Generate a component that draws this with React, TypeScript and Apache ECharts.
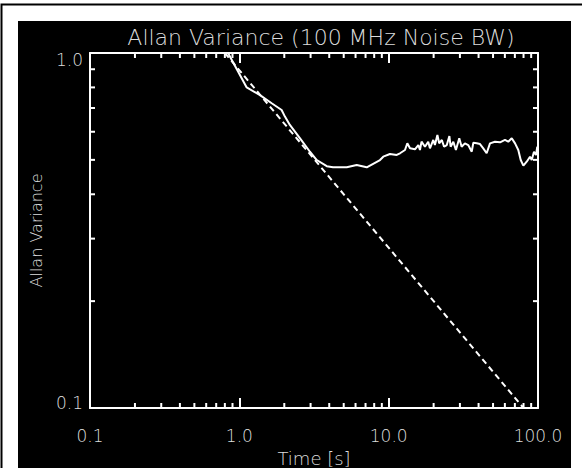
import React, { useEffect, useRef } from "react";
import * as echarts from "echarts";

const titleText = "Allan Variance (100 MHz Noise BW)";
const xName = "Time [s]";
const yName = "Allan Variance";

const measuredT = [0.84, 1.12, 1.375, 1.647, 1.92, 2.02, 2.18, 2.55, 2.97, 3.3, 3.85, 4.24, 5.24, 6.11, 7.13, 8.75, 9.2, 10.2, 11.32, 11.91, 12.86, 13.33, 13.9, 15.0, 15.8, 16.2, 16.6, 17.5, 18.4, 18.9, 19.9, 20.4, 21.2, 21.8, 22.7, 23.5, 24.5, 25.5, 26.0, 27.1, 28.2, 29.7, 30.8, 32.4, 34.1, 36.0, 36.9, 38.9, 40.9, 43.0, 45.3, 47.7, 51.5, 55.7, 60.1, 63.2, 66.7, 70.2, 73.8, 76.6, 79.8, 84.0, 88.4, 90.8, 94.0, 97.0, 98.9];
const measuredV = [1.0, 0.8, 0.761, 0.722, 0.691, 0.662, 0.627, 0.575, 0.527, 0.4995, 0.48, 0.4766, 0.4766, 0.4836, 0.4766, 0.4995, 0.5104, 0.5195, 0.5161, 0.5218, 0.533, 0.5566, 0.5388, 0.5353, 0.5505, 0.533, 0.5626, 0.5444, 0.5626, 0.5388, 0.5689, 0.5505, 0.5875, 0.5566, 0.5689, 0.5444, 0.5505, 0.5837, 0.5444, 0.5626, 0.533, 0.5751, 0.5444, 0.5566, 0.5505, 0.5272, 0.5588, 0.5566, 0.5541, 0.5388, 0.5218, 0.5566, 0.5626, 0.5604, 0.5689, 0.5626, 0.5751, 0.5566, 0.533, 0.4995, 0.4815, 0.494, 0.5104, 0.4995, 0.5272, 0.5161, 0.5444];

const idealT = [0.8, 80];
const idealV = [1.0, 0.1];

const xMinorTicks = [0.2, 0.3, 0.4, 0.5, 0.6, 0.7, 0.8, 0.9, 2, 3, 4, 5, 6, 7, 8, 9, 20, 30, 40, 50, 60, 70, 80, 90];
const yMinorTicks = [0.2, 0.3, 0.4, 0.5, 0.6, 0.7, 0.8, 0.9];

const X_MIN = 0.1, X_MAX = 100, Y_MIN = 0.1, Y_MAX = 1.0;

const FONT = "DejaVu Sans";
const TXT = "#dcdcdc";
const WEIGHT = 200;

export default function App() {
  const ref = useRef<HTMLDivElement>(null);
  useEffect(() => {
    if (!ref.current) return;
    const chart = echarts.init(ref.current, null, { renderer: "svg" });
    const fmt = (v: number) => Number(v.toPrecision(3)).toFixed(1);
    const axisCommon = {
      type: "log" as const,
      logBase: 10,
      axisLine: { show: true, onZero: false, lineStyle: { color: "#ffffff", width: 2 } },
      axisTick: { show: true, inside: true, length: 10, lineStyle: { color: "#ffffff", width: 2 } },
      splitLine: { show: false },
      minorTick: { show: false },
    };
    const minorRender = (axis: "x" | "y") => (params: any, api: any) => {
      const v = api.value(axis === "x" ? 0 : 1);
      const style = { stroke: "#ffffff", lineWidth: 2 };
      if (axis === "x") {
        const b = api.coord([v, Y_MIN]);
        const t = api.coord([v, Y_MAX]);
        return {
          type: "group",
          children: [
            { type: "line", shape: { x1: b[0], y1: b[1], x2: b[0], y2: b[1] - 5 }, style },
            { type: "line", shape: { x1: t[0], y1: t[1], x2: t[0], y2: t[1] + 5 }, style },
          ],
        };
      }
      const l = api.coord([X_MIN, v]);
      const r = api.coord([X_MAX, v]);
      return {
        type: "group",
        children: [
          { type: "line", shape: { x1: l[0], y1: l[1], x2: l[0] + 5, y2: l[1] }, style },
          { type: "line", shape: { x1: r[0], y1: r[1], x2: r[0] - 5, y2: r[1] }, style },
        ],
      };
    };
    const richBase = { fontFamily: FONT, fontSize: 17, color: TXT, fontWeight: WEIGHT };
    chart.setOption({
      animation: false,
      backgroundColor: "#ffffff",
      graphic: [
        { type: "rect", z: -100, shape: { x: 18, y: 21, width: 553, height: 460 }, style: { fill: "#000000" } },
        { type: "polyline", z: -100, shape: { points: [[1.5, 470], [1.5, 4.5], [582, 4.5]] }, style: { stroke: "#000000", lineWidth: 2, fill: null } },
      ],
      title: {
        text: titleText,
        left: 316,
        top: 21,
        textAlign: "center",
        textStyle: { fontFamily: FONT, fontSize: 22, fontWeight: WEIGHT, color: TXT },
      },
      grid: { left: 90, top: 53, right: 44, bottom: 60, containLabel: false, outerBoundsMode: "none" },
      xAxis: [
        {
          ...axisCommon,
          min: X_MIN,
          max: X_MAX,
          position: "bottom",
          name: xName,
          nameLocation: "middle",
          nameGap: 41,
          nameTextStyle: { fontFamily: FONT, fontSize: 18, fontWeight: WEIGHT, color: TXT },
          axisLabel: { show: true, margin: 19, fontFamily: FONT, fontSize: 17, fontWeight: WEIGHT, color: TXT, formatter: fmt },
        },
        {
          ...axisCommon,
          min: X_MIN,
          max: X_MAX,
          position: "top",
          axisLabel: { show: false },
        },
      ],
      yAxis: [
        {
          ...axisCommon,
          min: Y_MIN,
          max: Y_MAX,
          position: "left",
          name: yName,
          nameLocation: "middle",
          nameGap: 46,
          nameTextStyle: { fontFamily: FONT, fontSize: 16, fontWeight: WEIGHT, color: TXT },
          axisLabel: {
            show: true,
            margin: 7,
            fontFamily: FONT,
            fontSize: 17,
            fontWeight: WEIGHT,
            color: TXT,
            formatter: (v: number) => (v > 0.5 ? "{t|" + fmt(v) + "}" : "{b|" + fmt(v) + "}"),
            rich: {
              t: { ...richBase, padding: [14, 0, 0, 0] },
              b: { ...richBase, padding: [0, 0, 10, 0] },
            },
          },
        },
        {
          ...axisCommon,
          min: Y_MIN,
          max: Y_MAX,
          position: "right",
          axisLabel: { show: false },
        },
      ],
      series: [
        {
          type: "custom",
          xAxisIndex: 0,
          yAxisIndex: 0,
          renderItem: minorRender("x"),
          data: xMinorTicks.map((v) => [v, Y_MIN]),
          clip: false,
          silent: true,
          z: 5,
        },
        {
          type: "custom",
          xAxisIndex: 0,
          yAxisIndex: 0,
          renderItem: minorRender("y"),
          data: yMinorTicks.map((v) => [X_MIN, v]),
          clip: false,
          silent: true,
          z: 5,
        },
        {
          type: "line",
          name: "ideal",
          xAxisIndex: 0,
          yAxisIndex: 0,
          data: idealT.map((t, i) => [t, idealV[i]]),
          showSymbol: false,
          symbol: "none",
          lineStyle: { color: "#ffffff", width: 2, type: [6, 4] },
        },
        {
          type: "line",
          name: "measured",
          xAxisIndex: 0,
          yAxisIndex: 0,
          data: measuredT.map((t, i) => [t, measuredV[i]]),
          showSymbol: false,
          symbol: "none",
          lineStyle: { color: "#ffffff", width: 2 },
        },
      ],
    });
    return () => chart.dispose();
  }, []);
  return (
    <div style={{ position: "fixed", left: 0, top: 0, width: 582, height: 468, overflow: "hidden" }}>
      <div ref={ref} style={{ width: 582, height: 468 }} />
    </div>
  );
}
